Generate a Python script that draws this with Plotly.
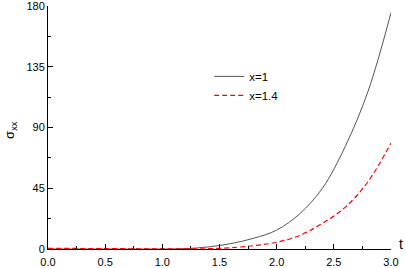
import plotly.graph_objects as go

t_x1 = [0.0, 0.5, 1.0, 1.2, 1.4, 1.6, 1.8, 2.0, 2.2, 2.4, 2.6, 2.8, 3.0]
s_x1 = [0.0, 0.0, 0.0, 0.3, 1.5, 4.0, 8.0, 14.0, 26.0, 45.0, 76.0, 117.0, 175.0]

t_x14 = [0.0, 0.5, 1.0, 1.5, 1.8, 2.0, 2.2, 2.4, 2.6, 2.8, 3.0]
s_x14 = [0.5, 0.3, 0.1, 0.5, 2.5, 5.0, 10.0, 19.0, 31.0, 50.0, 78.5]

x_ticks = [0.0, 0.5, 1.0, 1.5, 2.0, 2.5, 3.0]
y_ticks = [0, 45, 90, 135, 180]

fig = go.Figure()
fig.add_trace(go.Scatter(x=t_x1, y=s_x1, mode="lines", name="x=1",
                         line=dict(color="#555555", width=1, shape="spline")))
fig.add_trace(go.Scatter(x=t_x14, y=s_x14, mode="lines", name="x=1.4",
                         line=dict(color="#ff0000", width=1.2, dash="5px,3px", shape="spline")))

fam = "Liberation Sans, Arial"
fig.update_layout(
    template="none",
    width=406, height=268,
    margin=dict(l=48, r=15, t=6, b=19, autoexpand=False),
    paper_bgcolor="white", plot_bgcolor="white",
    font=dict(family=fam, size=11, color="black"),
    showlegend=True,
    legend=dict(x=0.47, y=0.77, xanchor="left", yanchor="top",
                bgcolor="rgba(0,0,0,0)", font=dict(family=fam, size=11.5, color="black"),
                tracegroupgap=0, itemwidth=30),
    xaxis=dict(range=[0, 3], tickvals=x_ticks, ticktext=[f"{v:.1f}" for v in x_ticks],
               showgrid=False, zeroline=False, showline=True, linecolor="black", linewidth=1,
               ticks="inside", ticklen=5, tickcolor="black", tickwidth=1, automargin=False,
               ticklabeloverflow="allow", ticklabelstandoff=3,
               minor=dict(dtick=0.25, ticks="inside", ticklen=3, tickcolor="black", tickwidth=1),
               tickfont=dict(family=fam, size=11, color="black")),
    yaxis=dict(range=[0, 180], tickvals=y_ticks,
               showgrid=False, zeroline=False, showline=True, linecolor="black", linewidth=1,
               ticks="inside", ticklen=5, tickcolor="black", tickwidth=1, automargin=False,
               ticklabeloverflow="allow",
               minor=dict(dtick=22.5, ticks="inside", ticklen=3, tickcolor="black", tickwidth=1),
               tickfont=dict(family=fam, size=11, color="black")),
)
fig.add_annotation(text="σ<sub>xx</sub>", xref="paper", yref="paper", x=-0.108, y=0.49,
                   xanchor="center", yanchor="middle", textangle=-90,
                   showarrow=False, font=dict(family=fam, size=13, color="black"))
fig.add_annotation(text="t", xref="paper", yref="paper", x=1.029, y=0.02,
                   xanchor="center", yanchor="middle",
                   showarrow=False, font=dict(family=fam, size=14, color="black"))
fig.write_html("out.html", config={"displayModeBar": False},
               post_script="document.body.style.margin='0';")
